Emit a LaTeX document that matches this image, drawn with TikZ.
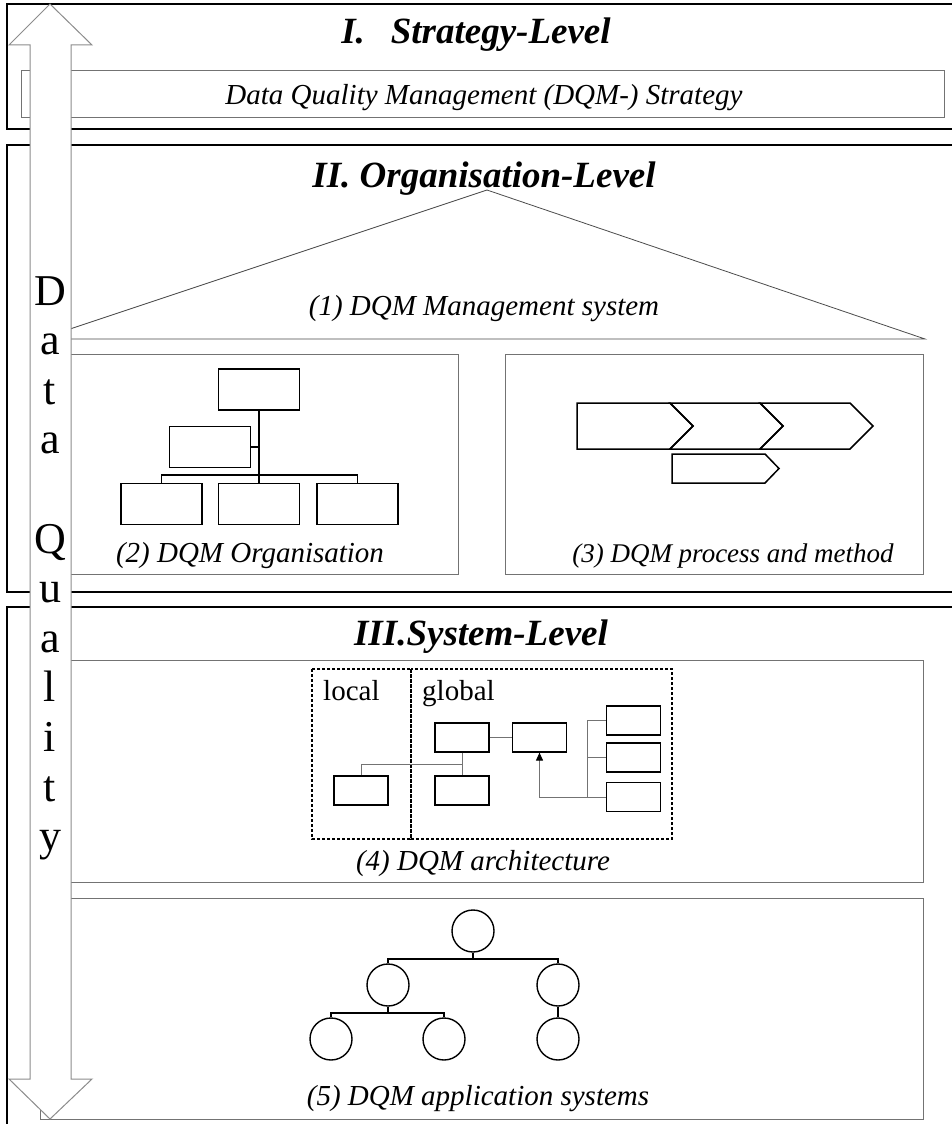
\documentclass[tikz,border=0pt]{standalone}
\usepackage{fontspec}
\setmainfont{Liberation Serif}
\usetikzlibrary{arrows.meta}
\begin{document}
\begin{tikzpicture}[x=1pt,y=-1pt,
  levelbox/.style={draw=black, line width=1.8pt},
  subbox/.style={draw=black!55, line width=1pt},
  thinline/.style={draw=black!70, line width=0.8pt},
  headtext/.style={font=\fontsize{37}{42}\selectfont\bfseries\itshape, anchor=base, inner sep=0},
  labeltext/.style={font=\fontsize{29}{34}\selectfont\itshape, anchor=base, inner sep=0},
  plaintext/.style={font=\fontsize{29}{34}\selectfont, anchor=base west, inner sep=0},
  orgbox/.style={draw, line width=1.5pt, inner sep=0, minimum width=81pt, minimum height=41pt},
  archbox/.style={draw, line width=1.2pt, inner sep=0, minimum width=54pt, minimum height=29pt},
  archline/.style={draw=black!55, line width=1pt},
  zone/.style={draw, line width=1.1pt, dash pattern=on 3pt off 2pt},
  appnode/.style={draw, circle, line width=1.4pt, inner sep=0, minimum size=42pt},
  treeline/.style={draw, line width=1.4pt},
  chev/.style={draw, line width=1.5pt, line join=miter},
  dqletter/.style={font=\fontsize{44}{50}\selectfont, anchor=base, inner sep=0}]

\useasboundingbox (0,0) rectangle (951,1124);
\fill[white] (0,0) rectangle (951,1124);

% ---------- I. Strategy level ----------
\draw[levelbox] (960,4) -- (7,4) -- (7,129) -- (960,129);
\node[headtext] (h1) at (476,44) {I.\hspace{0.45em} Strategy-Level};
\draw[subbox] (21,71) rectangle (944,117);
\node[labeltext] (strat) at (484,104) {Data Quality Management (DQM-) Strategy};

% ---------- II. Organisation level ----------
\draw[levelbox] (960,145) -- (7,145) -- (7,592) -- (960,592);
\node[headtext] (h2) at (484,187) {II. Organisation-Level};
\coordinate (roofL) at (40,339);
\coordinate (roofT) at (487,190);
\coordinate (roofR) at (925,339);
\draw[thinline] (roofL) -- (roofT) -- (roofR) -- cycle;
\node[labeltext] (l1) at (484,315) {(1) DQM Management system};

% (2) organisation
\draw[subbox] (40,354) rectangle (458,574);
\node[orgbox] (o0) at (259,389.5) {};
\node[orgbox] (om) at (210,447) {};
\node[orgbox] (o1) at (161.5,504) {};
\node[orgbox] (o2) at (259,504) {};
\node[orgbox] (o3) at (357.5,504) {};
\draw[line width=1.5pt] (o0.south) -- (o2.north);
\draw[line width=1.5pt] (om.east) -- (om.east -| o0.south);
\draw[line width=1.5pt] (o1.north) -- ++(0,-8) -| (o3.north);
\node[labeltext] (l2) at (250,562) {(2) DQM Organisation};

% (3) process and method
\draw[subbox] (505,354) rectangle (923,574);
\draw[chev] (577,403) -- (670,403) -- (693,426) -- (670,449) -- (577,449) -- cycle;
\draw[chev] (670,403) -- (760,403) -- (783,426) -- (760,449) -- (670,449) -- (693,426) -- cycle;
\draw[chev] (760,403) -- (850,403) -- (873,426) -- (850,449) -- (760,449) -- (783,426) -- cycle;
\draw[chev] (672,454) -- (765,454) -- (779,468.5) -- (765,483) -- (672,483) -- cycle;
\node[labeltext, font=\fontsize{27}{32}\selectfont\itshape] (l3) at (733,562) {(3) DQM process and method};

% ---------- III. System level ----------
\draw[levelbox] (960,607) -- (7,607) -- (7,1140);
\node[headtext] (h3) at (481,645) {III.System-Level};

% (4) architecture
\draw[subbox] (40,660) rectangle (923,882);
\draw[zone] (312,669) rectangle (411,839);
\draw[zone] (411,669) rectangle (672,839);
\node[plaintext] (loc) at (323,700) {local};
\node[plaintext] (glo) at (422,700) {global};
\node[archbox] (A) at (462,737.5) {};
\node[archbox] (B) at (539.5,737.5) {};
\node[archbox] (C) at (361,790.5) {};
\node[archbox] (D) at (462,790.5) {};
\node[archbox] (E) at (633.5,720.5) {};
\node[archbox] (F) at (633.5,757.5) {};
\node[archbox] (G) at (633.5,797) {};
\coordinate (aj) at (462,764);
\coordinate (rj) at (587,0);
\draw[archline] (A.east) -- (B.west);
\draw[archline] (A.south) -- (D.north);
\draw[archline] (C.north) |- (aj);
\draw[archline] (E.west) -- (E.west -| rj) |- (G.west);
\draw[archline] (F.west) -- (F.west -| rj);
\draw[archline, -{Triangle[length=8pt,width=7pt,fill=black,color=black]}] (G.west) -| (B.south);
\node[labeltext] (l4) at (483,870) {(4) DQM architecture};

% (5) application systems
\draw[subbox] (40,898) rectangle (923,1119);
\node[appnode] (T)  at (473,931) {};
\node[appnode] (L)  at (388,985) {};
\node[appnode] (R)  at (558,985) {};
\node[appnode] (LL) at (331,1039) {};
\node[appnode] (LM) at (444,1039) {};
\node[appnode] (RR) at (558,1039) {};
\coordinate (tj) at (473,959);
\coordinate (lj) at (388,1013);
\draw[treeline] (T.south) -- (tj);
\draw[treeline] (L.north) |- (tj) -| (R.north);
\draw[treeline] (L.south) -- (lj);
\draw[treeline] (LL.north) |- (lj) -| (LM.north);
\draw[treeline] (R.south) -- (RR.north);
\node[labeltext] (l5) at (478,1105) {(5) DQM application systems};

% ---------- Data Quality double arrow ----------
\draw[draw=black!45, fill=white, line width=1pt, line join=miter]
  (50,4) -- (92,45) -- (71,45) -- (71,1079) -- (92,1079) -- (50,1119)
  -- (9,1079) -- (30,1079) -- (30,45) -- (9,45) -- cycle;
\foreach \ch [count=\k from 0] in {D,a,t,a,{},Q,u,a,l,i,t,y}
  \node[dqletter] (dq\k) at (50,{305+49.6*\k}) {\ch};
\end{tikzpicture}
\end{document}
